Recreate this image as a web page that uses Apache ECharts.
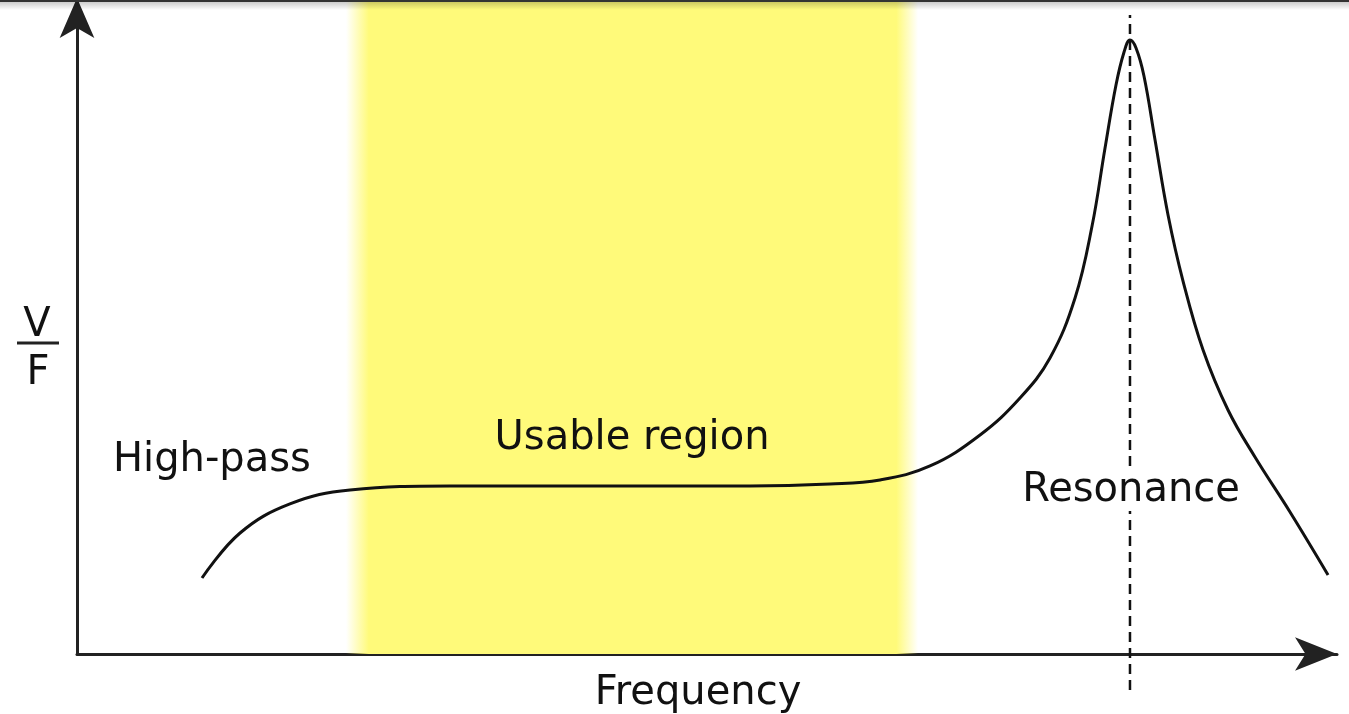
<!DOCTYPE html>
<html>
<head>
<meta charset="utf-8">
<script src="https://cdn.jsdelivr.net/npm/echarts@6/dist/echarts.min.js"></script>
<style>
html,body{margin:0;padding:0;background:#fff;}
#chart{width:1349px;height:714px;}
</style>
</head>
<body>
<div id="chart"></div>
<script>
// Frequency response (arbitrary units, 0-100 on both axes)
const freqValues = [9.92, 12.94, 16.90, 21.67, 29.60, 41.51, 53.41, 59.76, 63.73, 67.70, 71.67, 74.84, 77.22, 79.21, 80.56, 81.59, 82.46, 83.10, 83.57, 84.05, 84.68, 85.56, 86.59, 87.78, 89.37, 91.35, 93.49, 96.27, 99.29];
const responseValues = [11.62, 18.50, 22.94, 25.08, 25.69, 25.69, 25.69, 25.99, 26.61, 28.75, 33.49, 39.14, 45.26, 54.43, 65.44, 77.37, 87.00, 92.05, 93.88, 92.66, 88.38, 78.59, 67.13, 57.03, 46.48, 37.31, 30.12, 21.71, 12.08];
const usableRegion = [21.35, 66.75];
const resonanceFreq = 83.57;
const resonanceLineY = [-5.5, 97.7];
const labels = { highPass: 'High-pass', usable: 'Usable region', resonance: 'Resonance', xName: 'Frequency', yTop: 'V', yBottom: 'F' };

const curve = freqValues.map((f, i) => [f, responseValues[i]]);
const resLine = resonanceLineY.map(y => [resonanceFreq, y]);

const FONT = 'DejaVu Sans';
const chart = echarts.init(document.getElementById('chart'), null, { renderer: 'canvas' });
const yellow = '#fffa7a';
chart.setOption({
  animation: false,
  backgroundColor: '#ffffff',
  grid: { left: 77, right: 12, top: 0, bottom: 60, containLabel: false },
  xAxis: {
    type: 'value', min: 0, max: 100,
    axisLine: { show: true, onZero: false, symbol: ['none', 'arrow'], symbolSize: [25, 42], symbolOffset: [0, 0], lineStyle: { color: '#222', width: 3 } },
    axisTick: { show: false }, axisLabel: { show: false }, splitLine: { show: false }
  },
  yAxis: {
    type: 'value', min: 0, max: 100,
    axisLine: { show: true, onZero: false, symbol: ['none', 'arrow'], symbolSize: [26, 40], symbolOffset: [0, 2], lineStyle: { color: '#222', width: 3 } },
    axisTick: { show: false }, axisLabel: { show: false }, splitLine: { show: false }
  },
  series: [
    {
      type: 'line', data: curve, smooth: 0.4, showSymbol: false, symbol: 'none',
      lineStyle: { color: '#111', width: 3 }, z: 5,
      markArea: {
        silent: true,
        itemStyle: {
          color: new echarts.graphic.LinearGradient(0, 0, 1, 0, [
            { offset: 0, color: 'rgba(255,250,122,0)' },
            { offset: 0.04, color: yellow },
            { offset: 0.962, color: yellow },
            { offset: 1, color: 'rgba(255,250,122,0)' }
          ])
        },
        data: [[{ xAxis: usableRegion[0] }, { xAxis: usableRegion[1] }]]
      }
    },
    {
      type: 'line', data: resLine, showSymbol: false, symbol: 'none', clip: false,
      lineStyle: { color: '#111', width: 2.5, type: [10, 6] }, z: 4
    }
  ],
  graphic: [
    { type: 'rect', z: 200, shape: { x: 0, y: 0, width: 1349, height: 2 }, style: { fill: '#333' } },
    { type: 'rect', z: 200, shape: { x: 0, y: 2, width: 1349, height: 8 }, style: { fill: new echarts.graphic.LinearGradient(0, 0, 0, 1, [{ offset: 0, color: 'rgba(0,0,0,0.2)' }, { offset: 1, color: 'rgba(0,0,0,0)' }]) } },
    { type: 'text', z: 100, x: 113, y: 461, style: { text: labels.highPass, font: '40px "' + FONT + '"', fill: '#111', align: 'left', verticalAlign: 'middle' } },
    { type: 'text', z: 100, x: 632, y: 439, style: { text: labels.usable, font: '40px "' + FONT + '"', fill: '#111', align: 'center', verticalAlign: 'middle' } },
    { type: 'text', z: 100, x: 1131, y: 491, style: { text: labels.resonance, font: '40px "' + FONT + '"', fill: '#111', align: 'center', verticalAlign: 'middle', backgroundColor: '#fff', padding: [0, 0] } },
    { type: 'text', z: 100, x: 698, y: 694, style: { text: labels.xName, font: '40px "' + FONT + '"', fill: '#111', align: 'center', verticalAlign: 'middle' } },
    { type: 'text', z: 100, x: 37, y: 326, style: { text: labels.yTop, font: '40px "' + FONT + '"', fill: '#111', align: 'center', verticalAlign: 'middle' } },
    { type: 'text', z: 100, x: 38, y: 374, style: { text: labels.yBottom, font: '40px "' + FONT + '"', fill: '#111', align: 'center', verticalAlign: 'middle' } },
    { type: 'line', z: 100, shape: { x1: 17, y1: 343, x2: 59, y2: 343 }, style: { stroke: '#222', lineWidth: 3 } }
  ]
});
</script>
</body>
</html>
